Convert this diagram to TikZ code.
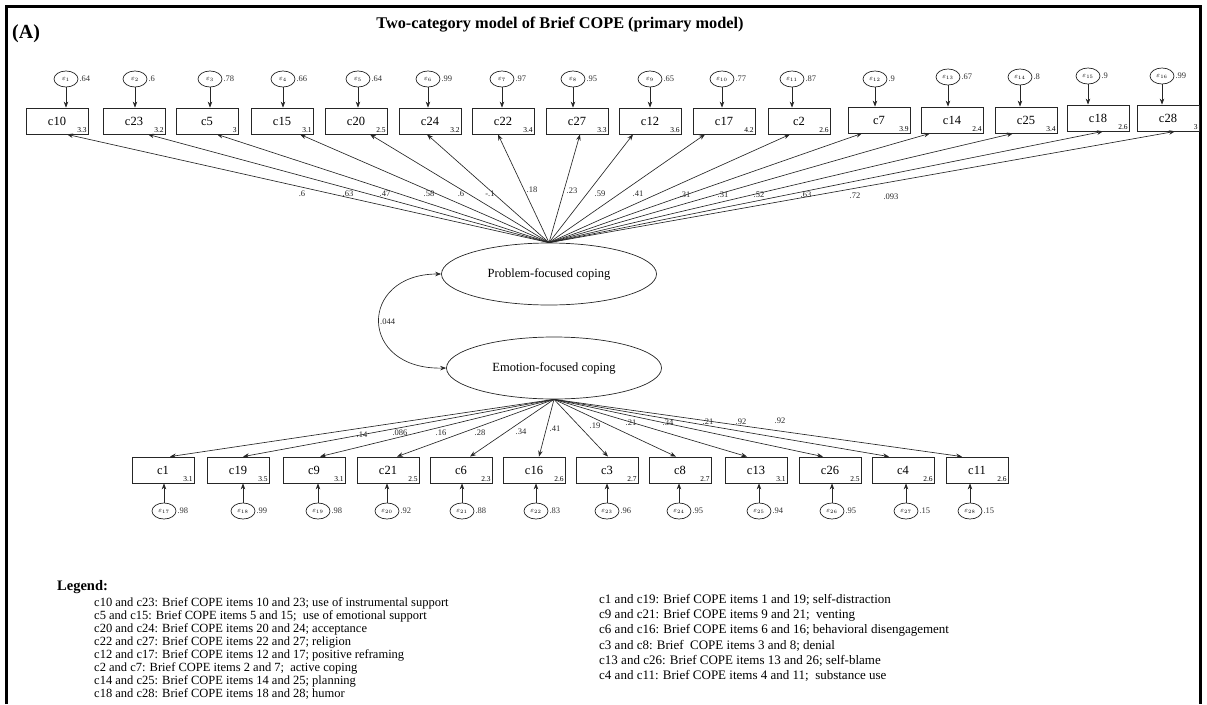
\documentclass[tikz,border=0pt]{standalone}
\usepackage{fontspec}
\setmainfont{Liberation Serif}
\usetikzlibrary{shapes.geometric,arrows.meta}

\begin{document}
\begin{tikzpicture}[x=1pt,y=-1pt,
  obs/.style={draw=black!85, line width=0.8pt, minimum width=62pt, minimum height=26pt,
    inner sep=0pt, font=\fontsize{12.5}{14}\selectfont},
  lat/.style={ellipse, draw=black!85, line width=0.7pt, minimum width=215pt,
    minimum height=62pt, inner sep=0pt, font=\fontsize{12.5}{14}\selectfont},
  err/.style={ellipse, draw=black!85, line width=0.7pt, minimum width=24pt,
    minimum height=16pt, inner sep=0pt, font=\fontsize{7.5}{8}\selectfont},
  tip/.tip={Stealth[length=6pt,width=4.5pt]},
  link/.style={-tip, draw=black!85, line width=0.65pt},
  coef/.style={font=\fontsize{8.5}{9}\selectfont, text=black!85, inner sep=0.5pt},
  mean/.style={font=\fontsize{7.5}{8}\selectfont, inner sep=0.5pt, anchor=south east},
  evar/.style={font=\fontsize{8.5}{9}\selectfont, text=black!80, anchor=west, inner sep=1pt},
  legl/.style={anchor=west, inner sep=0pt, font=\fontsize{12.5}{13}\selectfont},
  legr/.style={anchor=west, inner sep=0pt, font=\fontsize{13}{15}\selectfont}
]
\useasboundingbox (0,0) rectangle (1207,704);

% frame (open at the bottom)
\draw[line width=3pt] (6,704) -- (6,6) -- (1200,6) -- (1200,704);

% headings
\node[font=\bfseries\fontsize{20}{22}\selectfont, anchor=west, inner sep=0pt] (panel) at (12,34) {(A)};
\node[font=\bfseries\fontsize{16.3}{18}\selectfont, inner sep=0pt] (title) at (560,25)
  {Two-category model of Brief COPE (primary model)};

% latent factors
\node[lat] (pfc) at (549,274) {Problem-focused coping};
\node[lat] (efc) at (554,368) {Emotion-focused coping};

% factor covariance
\draw[tip-tip, draw=black!85, line width=0.65pt]
  (pfc.west) .. controls (358,274) and (358,370) .. (efc.west)
  node[pos=0.5, anchor=west, coef] (cov) {.044};

% problem-focused indicators (upper row)
\foreach \k/\lab/\x/\y/\m/\o/\ex/\ey/\ev/\cf/\cx/\cy in {
  1/c10/57/121/3.3/10/66/79/.64/.6/302/194,
  2/c23/134/121/3.2/14/135/79/.6/.63/348/194,
  3/c5/207/121/3/10/210/79/.78/.47/385/194,
  4/c15/282/121/3.1/18/283/79/.66/.58/429/194,
  5/c20/356/121/2.5/14/358/79/.64/.6/461/194,
  6/c24/430/121/3.2/-3/428/79/.99/-.1/490/194,
  7/c22/503/121/3.4/-5/502/79/.97/.18/532/190,
  8/c27/577/121/3.3/3/573/79/.95/.23/572/191,
  9/c12/650/121/3.6/-17/650/79/.65/.59/600/194,
  10/c17/724/121/4.2/-19/722/79/.77/.41/638/194,
  11/c2/799/121/2.6/-9/792/79/.87/.31/685/195,
  12/c7/879/120/3.9/-17/875/79/.9/.31/723/195,
  13/c14/952/120/2.4/-22/948/77/.67/.52/759/195,
  14/c25/1026/120/3.4/-13/1020/77/.8/.63/806/195,
  15/c18/1098/118/2.6/5/1088/76/.9/.72/855/196,
  16/c28/1168/118/3/7/1162/76/.99/.093/891/197}
{
  \node[obs] (t\k) at (\x,\y) {\lab};
  \node[mean] (tm\k) at ([xshift=-1pt,yshift=1pt]t\k.south east) {\m};
  \node[err] (te\k) at (\ex,\ey) {$\varepsilon_{\k}$};
  \node[evar] (tv\k) at (te\k.east) {\ev};
  \draw[link] (te\k.south) -- (te\k.south |- t\k.north);
  \draw[link] (pfc.north) -- ([xshift=\o pt]t\k.south);
  \node[coef] (tc\k) at (\cx,\cy) {\cf};
}

% emotion-focused indicators (lower row)
\foreach \k/\e/\lab/\x/\m/\o/\ex/\ev/\cf/\cx/\cy in {
  1/17/c1/163/3.1/7/164/.98/.14/362/435,
  2/18/c19/238/3.5/5/243/.99/.086/400/433,
  3/19/c9/314/3.1/6/318/.98/.16/441/433,
  4/20/c21/388/2.5/9/387/.92/.28/480/433,
  5/21/c6/461/2.3/9/462/.88/.34/521/432,
  6/22/c16/534/2.6/5/536/.83/.41/555/429,
  7/23/c3/607/2.7/1/607/.96/.19/595/426,
  8/24/c8/680/2.7/-4/679/.95/.21/631/423,
  9/25/c13/756/3.1/-9/759/.94/.34/668/423,
  10/26/c26/830/2.5/-7/832/.95/.21/708/422,
  11/27/c4/903/2.6/-14/906/.15/.92/741/422,
  12/28/c11/977/2.6/-15/970/.15/.92/780/421}
{
  \node[obs] (b\k) at (\x,470) {\lab};
  \node[mean] (bm\k) at ([xshift=-1pt,yshift=1pt]b\k.south east) {\m};
  \node[err] (be\k) at (\ex,511) {$\varepsilon_{\e}$};
  \node[evar] (bv\k) at (be\k.east) {\ev};
  \draw[link] (be\k.north) -- (be\k.north |- b\k.south);
  \draw[link] (efc.south) -- ([xshift=\o pt]b\k.north);
  \node[coef] (bc\k) at (\cx,\cy) {\cf};
}

% legend
\node[font=\bfseries\fontsize{14.5}{17}\selectfont, anchor=west, inner sep=0pt] (leg) at (57,587) {Legend:};
\foreach \t [count=\i] in {
  c10 and c23: Brief COPE items 10 and 23; use of instrumental support,
  c5 and c15: Brief COPE items 5 and 15;\ \ use of emotional support,
  c20 and c24: Brief COPE items 20 and 24; acceptance,
  c22 and c27: Brief COPE items 22 and 27; religion,
  c12 and c17: Brief COPE items 12 and 17; positive reframing,
  c2 and c7: Brief COPE items 2 and 7;\ \ active coping,
  c14 and c25: Brief COPE items 14 and 25; planning,
  c18 and c28: Brief COPE items 18 and 28; humor}
{
  \node[legl] (ll\i) at (94,{603+13*(\i-1)}) {\t};
}
\foreach \t [count=\i] in {
  c1 and c19: Brief COPE items 1 and 19; self-distraction,
  c9 and c21: Brief COPE items 9 and 21;\ \ venting,
  c6 and c16: Brief COPE items 6 and 16; behavioral disengagement,
  c3 and c8: Brief\ \ COPE items 3 and 8; denial,
  c13 and c26: Brief COPE items 13 and 26; self-blame,
  c4 and c11: Brief COPE items 4 and 11;\ \ substance use}
{
  \node[legr] (lr\i) at (599,{600+15.2*(\i-1)}) {\t};
}
\end{tikzpicture}
\end{document}
